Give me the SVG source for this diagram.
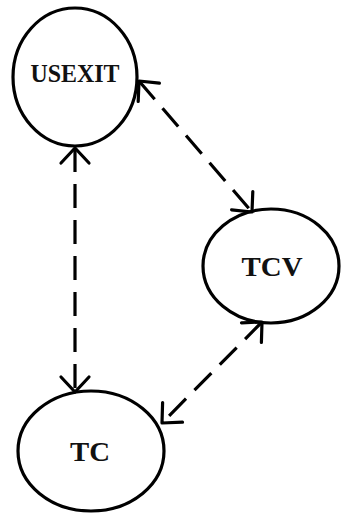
<svg xmlns="http://www.w3.org/2000/svg" width="345" height="517" viewBox="0 0 345 517">
<style>
.node{fill:none;stroke:#000;stroke-width:3.2}
.lbl{font-family:"Liberation Serif","Times New Roman",serif;font-weight:bold;fill:#111;text-anchor:middle}
.edge{fill:none;stroke:#000;stroke-width:3.2;stroke-dasharray:24 12}
</style>
<defs>
<marker id="v" markerUnits="userSpaceOnUse" markerWidth="40" markerHeight="40" viewBox="-20 -20 40 40" refX="0" refY="0" orient="auto-start-reverse">
<path d="M-15,-14 L0,0 L-15,14" fill="none" stroke="#000" stroke-width="3.2" stroke-linecap="round" stroke-linejoin="round"/>
</marker>
</defs>
<rect width="345" height="517" fill="#fff"/>
<g id="edges">
<path class="edge" d="M75,148 L75,392" marker-start="url(#v)" marker-end="url(#v)"/>
<path class="edge" d="M139,81 L252,212" marker-start="url(#v)" marker-end="url(#v)"/>
<path class="edge" d="M262,322 L162,423" marker-start="url(#v)" marker-end="url(#v)"/>
</g>
<g id="USEXIT">
<ellipse class="node" cx="75" cy="77" rx="62" ry="69"/>
<text class="lbl" x="75" y="82" font-size="25" textLength="89" lengthAdjust="spacingAndGlyphs">USEXIT</text>
</g>
<g id="TCV">
<ellipse class="node" cx="271" cy="266" rx="68" ry="57"/>
<text class="lbl" x="272" y="276" font-size="27" textLength="61" lengthAdjust="spacingAndGlyphs">TCV</text>
</g>
<g id="TC">
<ellipse class="node" cx="91" cy="451" rx="73" ry="60"/>
<text class="lbl" x="90" y="461" font-size="27" textLength="40" lengthAdjust="spacingAndGlyphs">TC</text>
</g>
</svg>
